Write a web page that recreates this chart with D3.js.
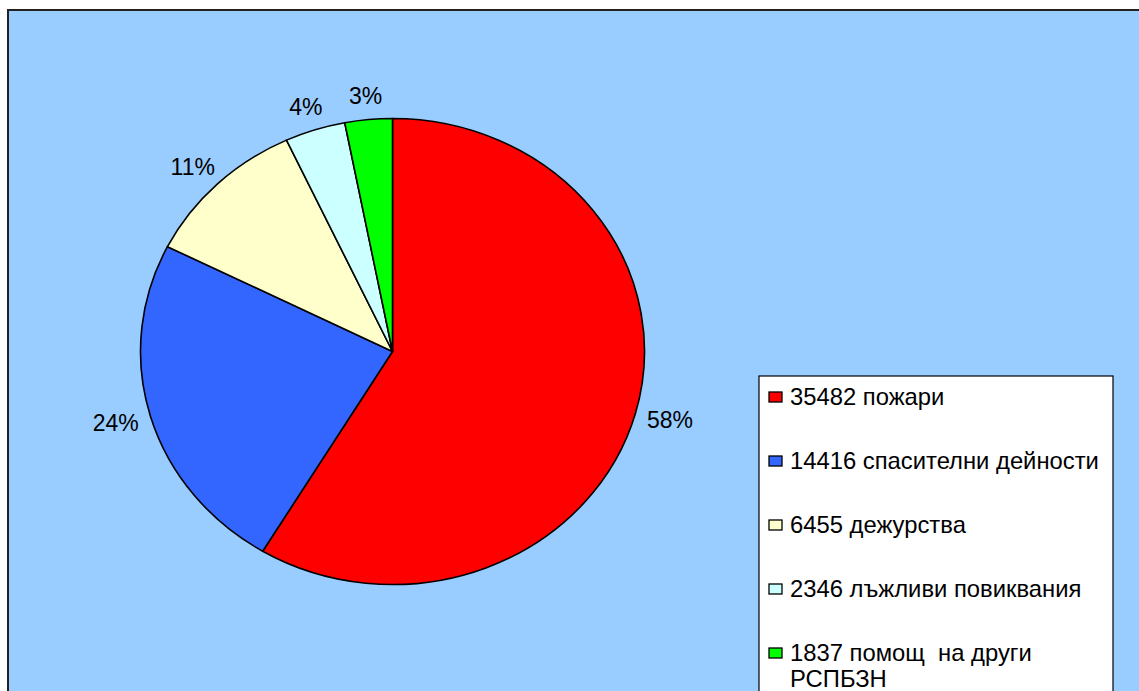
<!DOCTYPE html>
<html lang="bg">
  <head>
    <meta charset="utf-8">
    <title>Pie</title>
    <script src="https://d3js.org/d3.v7.min.js" charset="utf-8"></script>
    <style type="text/css">
        body {
            margin: 0;
            background: #fff;
            font-family: "Liberation Sans", Arial, sans-serif;
        }
        svg { display: block; }
    </style>
  </head>
  <body>
    <script type="text/javascript">
        // данни
        var counts = [35482, 14416, 6455, 2346, 1837];
        var names = ["35482 пожари", "14416 спасителни дейности", "6455 дежурства",
                     "2346 лъжливи повиквания", "1837 помощ  на други\nРСПБЗН"];
        var pctLabels = ["58%", "24%", "11%", "4%", "3%"];
        var colors = ["#FF0000", "#3366FF", "#FFFFCC", "#CCFFFF", "#00FF00"];

        var W = 1139, H = 691;
        var cx = 392.5, cy = 351.5,
            rx = 252, ry = 233;   // пая е леко сплескан
        var k = ry / rx;
        var fontSize = 23, legFont = 23.8;

        var svg = d3.select("body").append("svg")
            .attr("width", W)
            .attr("height", H);

        // фон на диаграмата
        svg.append("rect")
            .attr("x", 8).attr("y", 10)
            .attr("width", W + 20).attr("height", H + 20)
            .attr("fill", "#99CCFF")
            .attr("stroke", "#222")
            .attr("stroke-width", 2);

        var pie = d3.pie().sort(null).value(function (d) { return d; });
        var arcs = pie(counts);
        var arc = d3.arc().innerRadius(0).outerRadius(rx);

        var g = svg.append("g")
            .attr("transform", "translate(" + cx + "," + cy + ") scale(1," + k + ")");

        g.selectAll("path")
            .data(arcs)
            .enter()
            .append("path")
            .attr("d", arc)
            .attr("fill", function (d, i) { return colors[i]; })
            .attr("stroke", "#000")
            .attr("stroke-width", 1.6)
            .attr("stroke-linejoin", "round")
            .attr("vector-effect", "non-scaling-stroke");

        // етикети с проценти - кутията се допира до точка извън ръба
        var labelR = rx + 13;
        var pct = svg.selectAll("text.pct")
            .data(arcs)
            .enter()
            .append("text")
            .attr("class", "pct")
            .attr("text-anchor", "middle")
            .attr("dy", "0.35em")
            .attr("font-size", fontSize)
            .attr("fill", "#000")
            .text(function (d, i) { return pctLabels[i]; });

        pct.each(function (d) {
            var a = (d.startAngle + d.endAngle) / 2;
            var w = this.getComputedTextLength(), h = fontSize;
            var px = cx + labelR * Math.sin(a),
                py = cy - labelR * Math.cos(a) * k;
            d3.select(this)
                .attr("x", px + Math.sin(a) * w / 2)
                .attr("y", py - Math.cos(a) * h / 2);
        });

        // легенда
        var legX = 759, legY = 376;
        svg.append("rect")
            .attr("x", legX).attr("y", legY)
            .attr("width", 354).attr("height", 400)
            .attr("fill", "#fff")
            .attr("stroke", "#000")
            .attr("stroke-width", 1.2);

        var rowY = d3.scalePoint().domain(d3.range(names.length)).range([397, 653]);

        var leg = svg.selectAll("g.leg")
            .data(names)
            .enter()
            .append("g")
            .attr("class", "leg")
            .attr("transform", function (d, i) { return "translate(" + legX + "," + rowY(i) + ")"; });

        leg.append("rect")
            .attr("x", 10).attr("y", -5)
            .attr("width", 13).attr("height", 10)
            .attr("fill", function (d, i) { return colors[i]; })
            .attr("stroke", "#000")
            .attr("stroke-width", 1.3);

        leg.append("text")
            .attr("x", 31)
            .attr("font-size", legFont)
            .attr("fill", "#000")
            .selectAll("tspan")
            .data(function (d) { return d.split("\n"); })
            .enter()
            .append("tspan")
            .attr("x", 31)
            .attr("dy", function (d, j) { return j === 0 ? "0.35em" : "1.07em"; })
            .style("white-space", "pre")
            .text(function (d) { return d; });
    </script>
  </body>
</html>
